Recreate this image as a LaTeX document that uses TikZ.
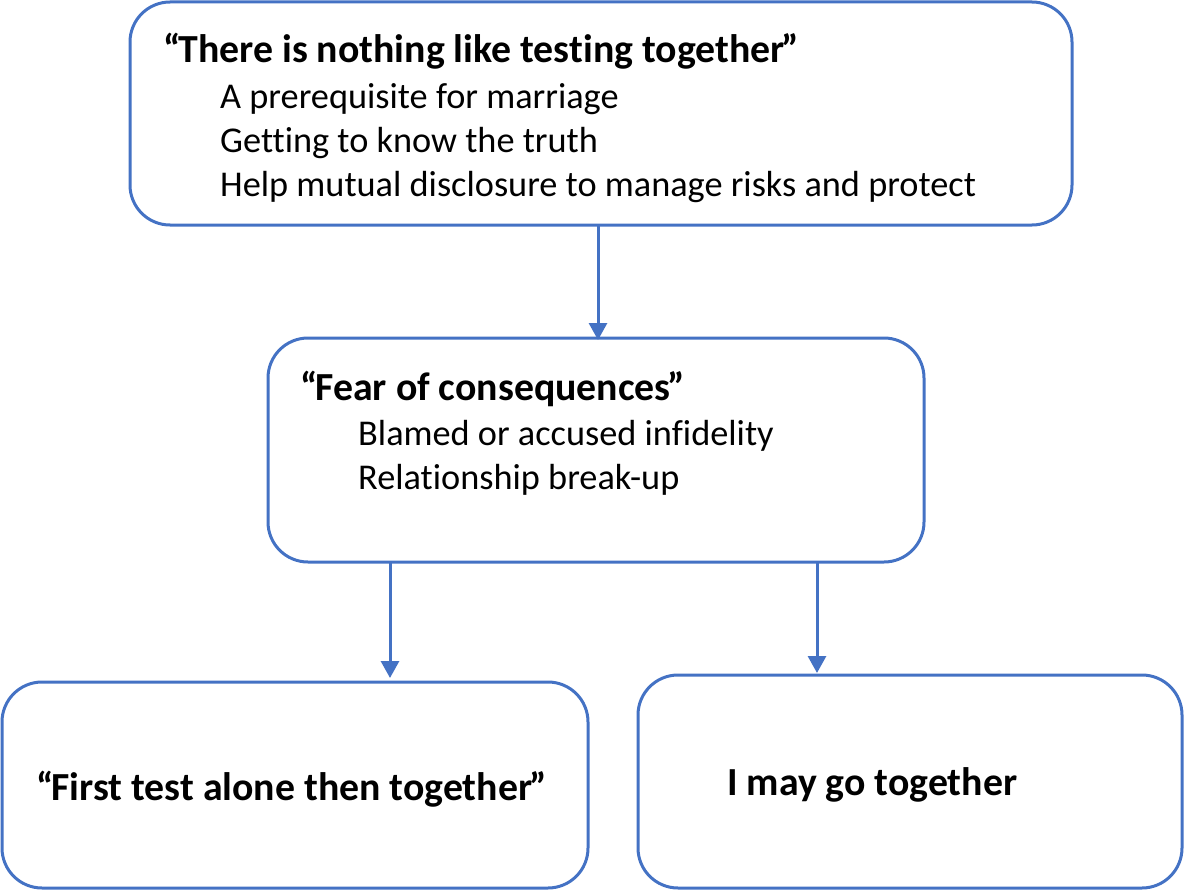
\documentclass[tikz,border=0pt]{standalone}
\usepackage{fontspec}
\setmainfont[Ligatures=NoCommon]{Carlito}
\usetikzlibrary{arrows.meta}
\definecolor{boxblue}{HTML}{4472C4}
\newcommand{\oq}{“\kern-2pt}
\newcommand{\cq}{\kern-3pt”}
\tikzset{
  box/.style={draw=boxblue, line width=3pt, rounded corners=40pt, fill=white},
  txt/.style={anchor=base west, inner sep=0pt, font=\fontsize{36.3}{40}\selectfont},
  btxt/.style={txt, font=\fontsize{39.8}{44}\selectfont\bfseries},
  conn/.style={draw=boxblue, line width=3pt, -{Triangle[width=18pt,length=17pt]}},
}
\begin{document}
\begin{tikzpicture}[x=1pt,y=-1pt]
\useasboundingbox (0,0) rectangle (1184,891);
\draw[box] (130,2) rectangle (1072,225);
\draw[box] (268,338) rectangle (924,562);
\draw[box] (2,682) rectangle (588,888);
\draw[box] (638,675) rectangle (1182,888);
\node[btxt] (t1) at (163,63) {\oq There is nothing like testing together\cq};
\node[txt] (l11) at (220,109) {A prerequisite for marriage};
\node[txt] (l12) at (220,152) {Getting to know the truth};
\node[txt] (l13) at (220,196) {Help mutual disclosure to manage risks and protect};
\node[btxt] (t2) at (300,400) {\oq Fear of consequences\cq};
\node[txt] (l21) at (358,445) {Blamed or accused infidelity};
\node[txt] (l22) at (358,489) {Relationship break-up};
\node[btxt] (t3) at (36,800) {\oq First test alone then together\cq};
\node[btxt] (t4) at (727,795) {I may go together};
\coordinate (a1s) at (598,225);
\coordinate (a1e) at (598,340);
\coordinate (a2s) at (390,562);
\coordinate (a2e) at (390,678);
\coordinate (a3s) at (817,562);
\coordinate (a3e) at (817,673);
\draw[conn] (a1s) -- (a1e);
\draw[conn] (a2s) -- (a2e);
\draw[conn] (a3s) -- (a3e);
\end{tikzpicture}
\end{document}
